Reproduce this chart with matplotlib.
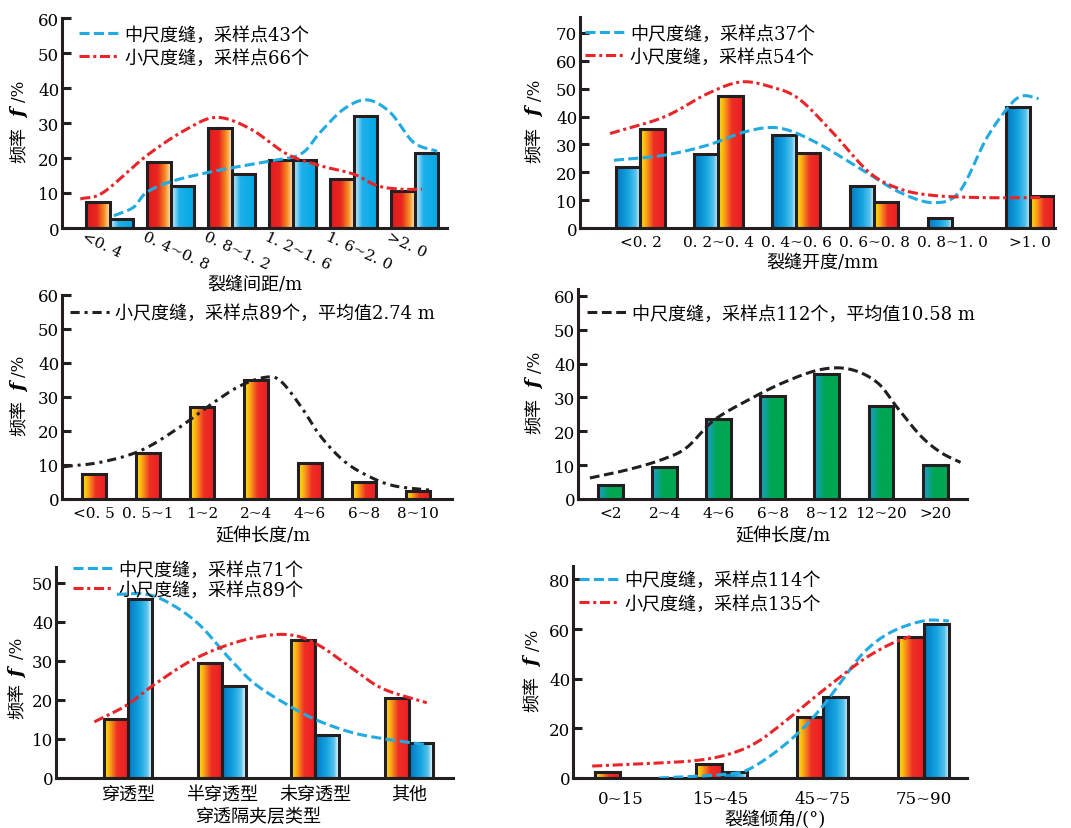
import numpy as np
import matplotlib
matplotlib.use("Agg")
import matplotlib.pyplot as plt
from matplotlib.colors import LinearSegmentedColormap
from matplotlib.transforms import ScaledTranslation

plt.rcParams['font.family'] = ['DejaVu Serif', 'Noto Sans CJK SC']

# ---- data ----
# panel 1: fracture spacing
p1_labels = ["<0. 4", "0. 4~0. 8", "0. 8~1. 2", "1. 2~1. 6", "1. 6~2. 0", ">2. 0"]
p1_small = [7.5, 19, 28.5, 19.5, 14, 10.5]
p1_mid = [2.5, 12, 15.5, 19.5, 32, 21.5]
p1_mid_cx = [0.07, 0.39, 0.61, 1.05, 1.76, 2.58, 3.13, 3.45, 3.84, 4.22, 4.60, 4.98, 5.37]
p1_mid_cy = [3.5, 5.9, 10.2, 13.5, 16.4, 19.0, 21.1, 27.3, 34.0, 36.6, 33.0, 24.5, 21.9]
p1_small_cx = [-0.48, -0.1, 0.61, 1.27, 1.76, 2.31, 2.91, 3.45, 4.0, 4.38, 4.77, 5.12]
p1_small_cy = [8.3, 10.2, 20.7, 28.3, 31.6, 28.3, 21.1, 17.8, 15.4, 12.1, 11.1, 11.1]

# panel 2: fracture aperture
p2_labels = ["<0. 2", "0. 2~0. 4", "0. 4~0. 6", "0. 6~0. 8", "0. 8~1. 0", ">1. 0"]
p2_mid = [22, 26.5, 33.5, 15, 3.5, 43.5]
p2_small = [35.5, 47.5, 27, 9.5, 0, 11.5]
p2_mid_cx = [-0.34, 0.30, 0.86, 1.34, 1.77, 2.24, 2.89, 3.32, 3.75, 4.09, 4.44, 4.74, 4.91, 5.11]
p2_mid_cy = [24.3, 26.1, 29.7, 34.5, 35.9, 30.9, 20.1, 12.9, 9.1, 12.9, 32.1, 44.0, 47.4, 46.4]
p2_small_cx = [-0.39, 0.30, 0.86, 1.29, 1.68, 2.03, 2.46, 2.93, 3.32, 3.75, 4.40, 5.13]
p2_small_cy = [33.9, 39.8, 48.2, 52.4, 50.6, 46.4, 34.5, 20.1, 14.1, 11.7, 10.9, 10.9]

# panel 3: extension length, small-scale
p3_labels = ["<0. 5", "0. 5~1", "1~2", "2~4", "4~6", "6~8", "8~10"]
p3_small = [7.5, 13.5, 27, 35, 10.5, 5, 2.5]
p3_cx = [-0.56, 0.12, 0.86, 1.54, 2.22, 2.71, 3.17, 3.45, 3.82, 4.19, 4.62, 5.06, 5.55, 6.23]
p3_cy = [9.5, 10.8, 14.2, 20.6, 28.4, 33.3, 35.8, 34.8, 27.5, 18.6, 11.3, 6.9, 3.9, 2.6]

# panel 4: extension length, mid-scale
p4_labels = ["<2", "2~4", "4~6", "6~8", "8~12", "12~20", ">20"]
p4_mid = [4, 9.5, 23.5, 30.5, 37, 27.5, 10]
p4_cx = [-0.38, 0.36, 0.98, 1.41, 1.90, 2.52, 3.20, 3.88, 4.43, 4.93, 5.30, 5.73, 6.10, 6.47]
p4_cy = [6.2, 8.8, 11.8, 15.2, 23.1, 29.0, 34.4, 38.2, 38.3, 34.4, 27.0, 18.7, 13.8, 10.8]

# panel 5: interlayer penetration type
p5_labels = ["穿透型", "半穿透型", "未穿透型", "其他"]
p5_small = [15, 29.5, 35.5, 20.5]
p5_mid = [46, 23.5, 11, 9]
p5_mid_cx = [-0.12, 0.2, 0.48, 0.77, 1.05, 1.33, 1.65, 1.98, 2.37, 2.72, 3.19]
p5_mid_cy = [47.1, 47.1, 44.3, 39.1, 31.5, 24.6, 19.5, 15.2, 11.8, 10.1, 8.5]
p5_small_cx = [-0.36, -0.02, 0.27, 0.66, 1.05, 1.44, 1.76, 2.04, 2.40, 2.72, 3.19]
p5_small_cy = [14.4, 18.6, 23.8, 29.9, 34.0, 36.4, 36.6, 34.0, 28.0, 22.9, 19.3]

# panel 6: dip angle
p6_labels = ["0~15", "15~45", "45~75", "75~90"]
p6_small = [2.5, 5.5, 24.5, 57]
p6_mid = [0, 2.5, 32.5, 62]
p6_mid_cx = [0.38, 0.76, 1.09, 1.25, 1.49, 1.75, 1.98, 2.18, 2.41, 2.67, 3.0, 3.25]
p6_mid_cy = [0, 0.7, 1.7, 3.1, 9.1, 17.8, 27.8, 38.5, 50.6, 58.6, 63.3, 63.3]
p6_small_cx = [-0.28, 0.26, 0.76, 1.09, 1.35, 1.62, 1.88, 2.15, 2.41, 2.67, 2.87]
p6_small_cy = [4.8, 5.8, 7.1, 9.8, 14.4, 22.5, 31.2, 39.9, 47.9, 53.9, 57.0]

# ---- styles ----
W, H = 1071, 829
INK = '#231f20'
BLUE = '#22aae2'
RED = '#e8262a'
red_fade = LinearSegmentedColormap.from_list('rf', [(0, '#e3191f'), (0.45, '#e8261f'), (0.75, '#f58a1f'), (0.9, '#fbc27a'), (1, '#fff4dc')])
blue_fade = LinearSegmentedColormap.from_list('bf', [(0, '#ffffff'), (0.1, '#a8e0f6'), (0.35, '#1fb0ea'), (1, '#00a8e6')])
yel_red = LinearSegmentedColormap.from_list('yr', [(0, '#fff200'), (0.25, '#f9a51a'), (0.55, '#ee3024'), (1, '#ec1c24')])
blue_white = LinearSegmentedColormap.from_list('bw', [(0, '#0077c0'), (0.5, '#16a5e1'), (0.8, '#59c3ec'), (1, '#ffffff')])
teal_green = LinearSegmentedColormap.from_list('tg', [(0, '#1a9fd6'), (0.45, '#00a651'), (1, '#00a651')])
grad = np.linspace(0, 1, 256).reshape(1, -1)

fig = plt.figure(figsize=(W / 100, H / 100), dpi=100)


def make_axes(l, r, b, t, ytop, xlim, yticks):
    ax = fig.add_axes([l / W, 1 - b / H, (r - l) / W, (b - t) / H])
    for s in ['top', 'right']:
        ax.spines[s].set_visible(False)
    for s in ['left', 'bottom']:
        ax.spines[s].set_linewidth(2.2)
        ax.spines[s].set_color(INK)
    ax.tick_params(axis='y', direction='in', length=6.5, width=2.2, color=INK, labelsize=12, pad=2)
    ax.tick_params(axis='x', length=0, labelsize=11, pad=5)
    ax.set_yticks(yticks)
    ax._lims = (xlim, (0, ytop))
    return ax


def finish(ax):
    ax.set_xlim(*ax._lims[0])
    ax.set_ylim(*ax._lims[1])


def grad_bars(ax, x, h, w, cmap):
    bars = ax.bar(x, h, w, facecolor='none', edgecolor=INK, linewidth=2.2, zorder=3)
    for b in bars:
        if b.get_height() <= 0:
            b.set_visible(False)
            continue
        x0, bw, bh = b.get_x(), b.get_width(), b.get_height()
        ax.imshow(grad, extent=[x0, x0 + bw, 0, bh], aspect='auto', cmap=cmap,
                  zorder=2, interpolation='bilinear')


def smooth(xs, ys, n=24):
    p = np.column_stack([xs, ys]).astype(float)
    p = np.vstack([2 * p[0] - p[1], p, 2 * p[-1] - p[-2]])
    t = np.linspace(0, 1, n, endpoint=False)[:, None]
    out = []
    for i in range(1, len(p) - 2):
        p0, p1, p2, p3 = p[i - 1], p[i], p[i + 1], p[i + 2]
        out.append(0.5 * (2 * p1 + (-p0 + p2) * t + (2 * p0 - 5 * p1 + 4 * p2 - p3) * t ** 2
                          + (-p0 + 3 * p1 - 3 * p2 + p3) * t ** 3))
    out.append(p[-2][None, :])
    out = np.vstack(out)
    return out[:, 0], out[:, 1]


DASH = (0, (3.3, 1.4))
DASHDOT = (0, (3.3, 1.2, 1.0, 1.2))


def curve(ax, xs, ys, color, ls, label):
    sx, sy = smooth(xs, ys)
    ax.plot(sx, sy, color=color, lw=2.2, ls=ls, label=label, zorder=4)


def legend(ax, x, y, spacing=0.3):
    ax.legend(loc='upper left', bbox_to_anchor=(x, y), frameon=False, fontsize=13,
              handlelength=2.2, handletextpad=0.3, labelspacing=spacing,
              borderpad=0, borderaxespad=0)


def ylab(ax, fy=(0.40, 0.55, 0.655), dx=-42):
    tr = ax.transAxes + ScaledTranslation(dx / 100, 0, fig.dpi_scale_trans)
    ax.text(0, fy[0], "频率", rotation=90, ha='center', va='center', fontsize=13, transform=tr)
    ax.text(0, fy[1], "f", rotation=90, ha='center', va='center', fontsize=14,
            style='italic', weight='bold', family='DejaVu Serif', transform=tr)
    ax.text(0, fy[2], "/%", rotation=90, ha='center', va='center', fontsize=12, transform=tr)


# ---- panel 1 ----
ax = make_axes(62, 447, 229, 19, 60, (-0.78, 5.53), range(0, 61, 10))
x = np.arange(len(p1_labels))
w = 0.39
grad_bars(ax, x - w / 2, p1_small, w, red_fade)
grad_bars(ax, x + w / 2, p1_mid, w, blue_fade)
curve(ax, p1_mid_cx, p1_mid_cy, BLUE, DASH, "中尺度缝，采样点43个")
curve(ax, p1_small_cx, p1_small_cy, RED, DASHDOT, "小尺度缝，采样点66个")
ax.set_xticks(x)
ax.set_xticklabels(p1_labels, rotation=-25, ha='left', va='top', rotation_mode='anchor')
ax.tick_params(axis='x', pad=1)
for lab in ax.get_xticklabels():
    lab.set_transform(lab.get_transform() + ScaledTranslation(-0.24, 0, fig.dpi_scale_trans))
ax.set_xlabel("裂缝间距/m", fontsize=13)
ax.xaxis.set_label_coords(0.50, -0.225)
legend(ax, 0.044, 0.965)
ylab(ax)
finish(ax)

# ---- panel 2 ----
ax = make_axes(580, 1055, 229, 18, 75.7, (-0.776, 5.32), range(0, 71, 10))
x = np.arange(len(p2_labels))
w = 0.31
grad_bars(ax, x - w / 2, p2_mid, w, blue_white)
grad_bars(ax, x + w / 2, p2_small, w, yel_red)
curve(ax, p2_mid_cx, p2_mid_cy, BLUE, DASH, "中尺度缝，采样点37个")
curve(ax, p2_small_cx, p2_small_cy, RED, DASHDOT, "小尺度缝，采样点54个")
ax.set_xticks(x)
ax.set_xticklabels(p2_labels)
ax.set_xlabel("裂缝开度/mm", fontsize=13)
ax.xaxis.set_label_coords(0.51, -0.123)
legend(ax, 0.01, 0.965)
ylab(ax, dx=-45)
finish(ax)

# ---- panel 3 ----
ax = make_axes(62, 452, 500, 296, 60, (-0.59, 6.63), range(0, 61, 10))
x = np.arange(len(p3_labels))
grad_bars(ax, x, p3_small, 0.45, yel_red)
curve(ax, p3_cx, p3_cy, INK, (0, (3.0, 1.6, 1.0, 1.6)), "小尺度缝，采样点89个，平均值2.74 m")
ax.set_xticks(x)
ax.set_xticklabels(p3_labels)
ax.set_xlabel("延伸长度/m", fontsize=13)
ax.xaxis.set_label_coords(0.515, -0.132)
legend(ax, 0.02, 0.955)
ylab(ax)
finish(ax)

# ---- panel 4 ----
ax = make_axes(578, 967, 500, 290, 62, (-0.6, 6.59), range(0, 61, 10))
x = np.arange(len(p4_labels))
grad_bars(ax, x, p4_mid, 0.46, teal_green)
curve(ax, p4_cx, p4_cy, INK, (0, (3.2, 1.5)), "中尺度缝，采样点112个，平均值10.58 m")
ax.set_xticks(x)
ax.set_xticklabels(p4_labels)
ax.set_xlabel("延伸长度/m", fontsize=13)
ax.xaxis.set_label_coords(0.527, -0.129)
legend(ax, 0.023, 0.925)
ylab(ax, dx=-43)
finish(ax)

# ---- panel 5 ----
ax = make_axes(56, 453, 779, 568, 54.1, (-0.77, 3.47), range(0, 51, 10))
x = np.arange(len(p5_labels))
w = 0.256
grad_bars(ax, x - w / 2, p5_small, w, yel_red)
grad_bars(ax, x + w / 2, p5_mid, w, blue_white)
curve(ax, p5_mid_cx, p5_mid_cy, BLUE, DASH, "中尺度缝，采样点71个")
curve(ax, p5_small_cx, p5_small_cy, RED, DASHDOT, "小尺度缝，采样点89个")
ax.set_xticks(x)
ax.set_xticklabels(p5_labels, fontsize=13)
ax.set_xlabel("穿透隔夹层类型", fontsize=13)
ax.xaxis.set_label_coords(0.51, -0.137)
legend(ax, 0.043, 1.03, spacing=0.1)
ylab(ax, fy=(0.37, 0.50, 0.62), dx=-38)
finish(ax)

# ---- panel 6 ----
ax = make_axes(573, 967, 779, 567, 85.4, (-0.47, 3.43), range(0, 81, 20))
x = np.arange(len(p6_labels))
w = 0.25
grad_bars(ax, x - w / 2, p6_small, w, yel_red)
grad_bars(ax, x + w / 2, p6_mid, w, blue_white)
curve(ax, p6_mid_cx, p6_mid_cy, BLUE, DASH, "中尺度缝，采样点114个")
curve(ax, p6_small_cx, p6_small_cy, RED, DASHDOT, "小尺度缝，采样点135个")
ax.set_xticks(x)
ax.set_xticklabels(p6_labels, fontsize=12)
ax.tick_params(axis='x', pad=9)
ax.set_xlabel("裂缝倾角/(°)", fontsize=13)
ax.xaxis.set_label_coords(0.513, -0.148)
legend(ax, 0.015, 0.975)
ylab(ax, dx=-40)
finish(ax)

fig.savefig("out.png", dpi=100)
